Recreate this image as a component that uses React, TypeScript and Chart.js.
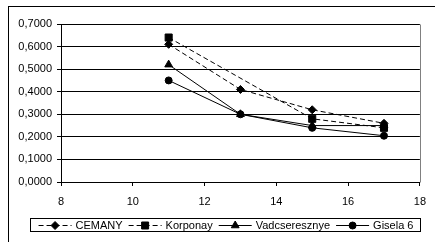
import React, { useEffect, useRef } from 'react';
import { Chart, registerables } from 'chart.js';

Chart.register(...registerables);

const xValues = [11, 13, 15, 17];
const seriesNames = ['CEMANY', 'Korponay', 'Vadcseresznye', 'Gisela 6'];
const cemany = [0.61, 0.41, 0.32, 0.26];
const korponay = [0.64, null, 0.28, 0.24];
const vadcseresznye = [0.52, 0.30, 0.25, 0.25];
const gisela6 = [0.45, 0.30, 0.24, 0.205];
const yTickLabels = ['0,0000', '0,1000', '0,2000', '0,3000', '0,4000', '0,5000', '0,6000', '0,7000'];
const xTickLabels = ['8', '10', '12', '14', '16', '18'];

const FONT = "'Liberation Sans', Arial, sans-serif";

type Sym = 'rectRot' | 'rect' | 'triangle' | 'circle';

function drawMarker(ctx: CanvasRenderingContext2D, sym: Sym, x: number, y: number) {
  ctx.save();
  ctx.fillStyle = '#000';
  ctx.strokeStyle = '#000';
  ctx.lineWidth = 1;
  ctx.setLineDash([]);
  ctx.beginPath();
  if (sym === 'rectRot') {
    const r = 4;
    ctx.moveTo(x - r, y);
    ctx.lineTo(x, y - r);
    ctx.lineTo(x + r, y);
    ctx.lineTo(x, y + r);
    ctx.closePath();
  } else if (sym === 'rect') {
    const h = 3.5;
    ctx.rect(x - h, y - h, 2 * h, 2 * h);
  } else if (sym === 'triangle') {
    const r = 4.5;
    ctx.moveTo(x, y - r);
    ctx.lineTo(x + r * 0.866, y + r * 0.5);
    ctx.lineTo(x - r * 0.866, y + r * 0.5);
    ctx.closePath();
  } else {
    ctx.arc(x, y, 3.5, 0, Math.PI * 2);
  }
  ctx.fill();
  ctx.stroke();
  ctx.restore();
}

const symbols: Sym[] = ['rectRot', 'rect', 'triangle', 'circle'];
const dashes: number[][] = [[5, 3], [5, 3], [], []];

const frameLegendPlugin = {
  id: 'frameLegend',
  afterDraw(chart: any) {
    const ctx: CanvasRenderingContext2D = chart.ctx;
    const a = chart.chartArea;
    ctx.save();
    // right border of plot area
    ctx.strokeStyle = '#808080';
    ctx.lineWidth = 1;
    ctx.beginPath();
    ctx.moveTo(Math.round(a.right) + 0.5, Math.round(a.top) + 0.5);
    ctx.lineTo(Math.round(a.right) + 0.5, Math.round(a.bottom) + 0.5);
    ctx.stroke();

    // legend box
    const bx = 30, by = 218, bw = 390, bh = 13;
    ctx.fillStyle = '#fff';
    ctx.fillRect(bx, by, bw, bh);
    ctx.strokeStyle = '#000';
    ctx.strokeRect(bx + 0.5, by + 0.5, bw, bh);

    ctx.font = `11px ${FONT}`;
    ctx.textBaseline = 'middle';
    ctx.fillStyle = '#000';
    const lineLen = 33, gapText = 4, gapItem = 6;
    const widths = seriesNames.map((n) => ctx.measureText(n).width);
    const total = widths.reduce((s, w) => s + w, 0) + seriesNames.length * (lineLen + gapText) + (seriesNames.length - 1) * gapItem;
    let x = bx + (bw - total) / 2 + 1;
    const cy = by + bh / 2 + 0.5;
    seriesNames.forEach((name, i) => {
      ctx.save();
      ctx.strokeStyle = '#000';
      ctx.lineWidth = 1;
      ctx.setLineDash(dashes[i]);
      ctx.beginPath();
      ctx.moveTo(x, Math.round(cy) + 0.5);
      ctx.lineTo(x + lineLen, Math.round(cy) + 0.5);
      ctx.stroke();
      ctx.restore();
      drawMarker(ctx, symbols[i], x + lineLen / 2, Math.round(cy) + 0.5);
      x += lineLen + gapText;
      ctx.fillStyle = '#000';
      ctx.fillText(name, x, cy + 0.5);
      x += widths[i] + gapItem;
    });
    ctx.restore();
  },
};

export default function App() {
  const ref = useRef<HTMLCanvasElement>(null);
  useEffect(() => {
    if (!ref.current) return;
    const all = [cemany, korponay, vadcseresznye, gisela6];
    const radii = [4, 5, 4.5, 3.5];
    const chart = new Chart(ref.current, {
      type: 'line',
      data: {
        datasets: all.map((vals, i) => ({
          label: seriesNames[i],
          data: xValues.map((x, j) => ({ x, y: vals[j] })),
          borderColor: '#000',
          backgroundColor: '#000',
          borderWidth: 1,
          borderDash: dashes[i],
          pointStyle: symbols[i],
          pointRadius: radii[i],
          pointBorderWidth: 1,
          pointBackgroundColor: '#000',
          pointBorderColor: '#000',
          spanGaps: true,
          tension: 0,
          order: 4 - i,
        })),
      },
      options: {
        animation: false,
        responsive: false,
        maintainAspectRatio: false,
        devicePixelRatio: 1,
        layout: { padding: { left: 0, top: 24, right: 10, bottom: 30 } },
        plugins: { legend: { display: false }, tooltip: { enabled: false } },
        scales: {
          x: {
            type: 'linear',
            min: 8,
            max: 18,
            afterFit: (s: any) => { s.height = 30; },
            ticks: {
              stepSize: 2,
              padding: 9,
              color: '#000',
              font: { family: FONT, size: 11 },
              callback: (_v: any, i: number) => xTickLabels[i],
            },
            grid: { drawOnChartArea: false, drawTicks: true, tickLength: 4, color: '#000', lineWidth: 1 },
            border: { display: true, color: '#000', width: 1 },
          },
          y: {
            type: 'linear',
            min: 0,
            max: 0.7,
            afterFit: (s: any) => { s.width = 61; },
            ticks: {
              stepSize: 0.1,
              padding: 5,
              color: '#000',
              font: { family: FONT, size: 11 },
              callback: (_v: any, i: number) => yTickLabels[i],
            },
            grid: { color: '#000', lineWidth: 1, tickLength: 4, drawTicks: true },
            border: { display: true, color: '#000', width: 1 },
          },
        },
      },
      plugins: [frameLegendPlugin],
    });
    return () => chart.destroy();
  }, []);

  return (
    <div style={{ position: 'fixed', left: 0, top: 0, width: 435, height: 242, overflow: 'hidden', background: '#fff' }}>
      <div style={{ position: 'absolute', left: 8, top: 6, width: 500, height: 300, borderLeft: '1px solid #000', borderTop: '1px solid #000' }} />
      <canvas ref={ref} width={435} height={242} style={{ position: 'absolute', left: 0, top: 0, width: 435, height: 242 }} />
    </div>
  );
}
